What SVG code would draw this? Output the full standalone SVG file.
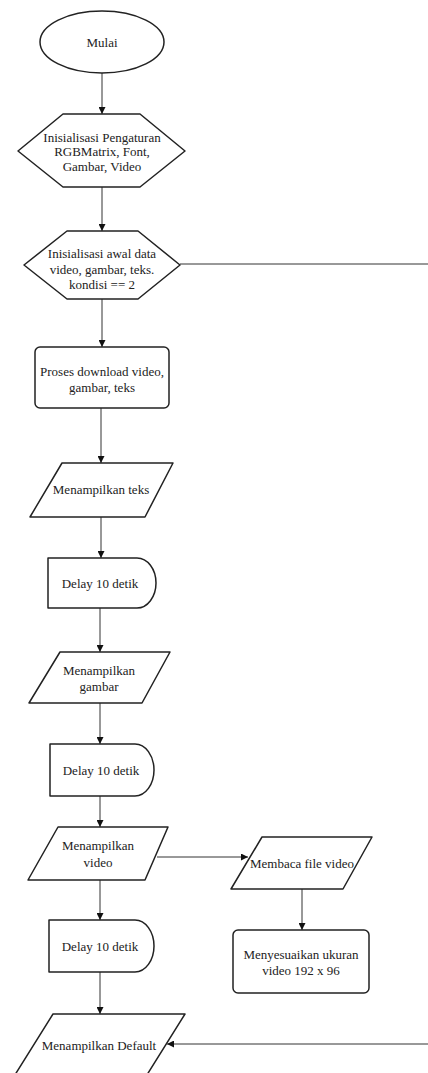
<svg xmlns="http://www.w3.org/2000/svg" width="428" height="1073" viewBox="0 0 428 1073">
<defs>
<style>
.s{fill:#fff;stroke:#222;stroke-width:1.5;stroke-linejoin:round}
.c{fill:none;stroke:#333;stroke-width:1}
.t{font-family:'Liberation Serif','DejaVu Serif',serif;font-size:13px;fill:#222;text-anchor:middle;dominant-baseline:central}
</style>
<marker id="ah" viewBox="0 0 10 10" refX="10" refY="5" markerWidth="7" markerHeight="7" markerUnits="userSpaceOnUse" orient="auto">
<path d="M0,0 L10,5 L0,10 Z" fill="#111"/>
</marker>
</defs>
<rect width="428" height="1073" fill="#fff"/>
<g id="connectors">
<line class="c" x1="102" y1="73" x2="102" y2="114" marker-end="url(#ah)"/>
<line class="c" x1="102" y1="187" x2="102" y2="231" marker-end="url(#ah)"/>
<line class="c" x1="102" y1="299" x2="102" y2="347" marker-end="url(#ah)"/>
<line class="c" x1="101" y1="408" x2="101" y2="463" marker-end="url(#ah)"/>
<line class="c" x1="101" y1="517" x2="101" y2="558" marker-end="url(#ah)"/>
<line class="c" x1="100" y1="608" x2="100" y2="652" marker-end="url(#ah)"/>
<line class="c" x1="100" y1="703" x2="100" y2="744" marker-end="url(#ah)"/>
<line class="c" x1="100" y1="796" x2="100" y2="827" marker-end="url(#ah)"/>
<line class="c" x1="100" y1="880" x2="100" y2="920" marker-end="url(#ah)"/>
<line class="c" x1="100" y1="972" x2="100" y2="1014" marker-end="url(#ah)"/>
<line class="c" x1="157" y1="857" x2="248" y2="857" marker-end="url(#ah)"/>
<line class="c" x1="302" y1="889" x2="302" y2="930" marker-end="url(#ah)"/>
<line class="c" x1="180" y1="264" x2="428" y2="264"/>
<line class="c" x1="428" y1="1044" x2="167" y2="1044" marker-end="url(#ah)"/>
</g>
<g id="mulai">
<ellipse class="s" cx="102" cy="42" rx="62" ry="31"/>
<text class="t" x="102" y="42" font-family="Liberation Serif, serif">Mulai</text>
</g>
<g id="init1">
<polygon class="s" points="18,151 63,114 140,114 185,151 140,187 63,187"/>
<text class="t" x="102" y="137">Inisialisasi Pengaturan</text>
<text class="t" x="102" y="151.5">RGBMatrix, Font,</text>
<text class="t" x="102" y="166">Gambar, Video</text>
</g>
<g id="init2">
<polygon class="s" points="24,265 67,231 138,231 180,265 138,299 67,299"/>
<text class="t" x="102" y="253">Inisialisasi awal data</text>
<text class="t" x="102" y="269">video, gambar, teks.</text>
<text class="t" x="102" y="284">kondisi == 2</text>
</g>
<g id="download">
<rect class="s" x="35" y="347" width="134" height="61" rx="5"/>
<text class="t" x="102" y="371">Proses download video,</text>
<text class="t" x="102" y="387">gambar, teks</text>
</g>
<g id="teks">
<polygon class="s" points="62,463 173,463 145,517 30,517"/>
<text class="t" x="101" y="489">Menampilkan teks</text>
</g>
<g id="delay1">
<path class="s" d="M48,558 H137 A19,25 0 0 1 137,608 H48 Z"/>
<text class="t" x="100" y="583">Delay 10 detik</text>
</g>
<g id="gambar">
<polygon class="s" points="60,652 170,652 142,703 29,703"/>
<text class="t" x="99" y="670">Menampilkan</text>
<text class="t" x="99" y="686">gambar</text>
</g>
<g id="delay2">
<path class="s" d="M50,744 H135 A19,26 0 0 1 135,796 H50 Z"/>
<text class="t" x="101" y="770">Delay 10 detik</text>
</g>
<g id="video">
<polygon class="s" points="58,827 168,827 145,880 28,880"/>
<text class="t" x="98" y="845">Menampilkan</text>
<text class="t" x="98" y="862">video</text>
</g>
<g id="delay3">
<path class="s" d="M49,920 H135 A19,26 0 0 1 135,972 H49 Z"/>
<text class="t" x="100" y="946">Delay 10 detik</text>
</g>
<g id="membaca">
<polygon class="s" points="262,837 372,837 343,889 231,889"/>
<text class="t" x="302" y="863">Membaca file video</text>
</g>
<g id="menyesuaikan">
<rect class="s" x="233" y="930" width="136" height="63" rx="5"/>
<text class="t" x="301" y="954">Menyesuaikan ukuran</text>
<text class="t" x="301" y="970">video 192 x 96</text>
</g>
<g id="default">
<polygon class="s" points="53,1014 185,1014 145,1078 13,1078"/>
<text class="t" x="99" y="1045">Menampilkan Default</text>
</g>
</svg>
